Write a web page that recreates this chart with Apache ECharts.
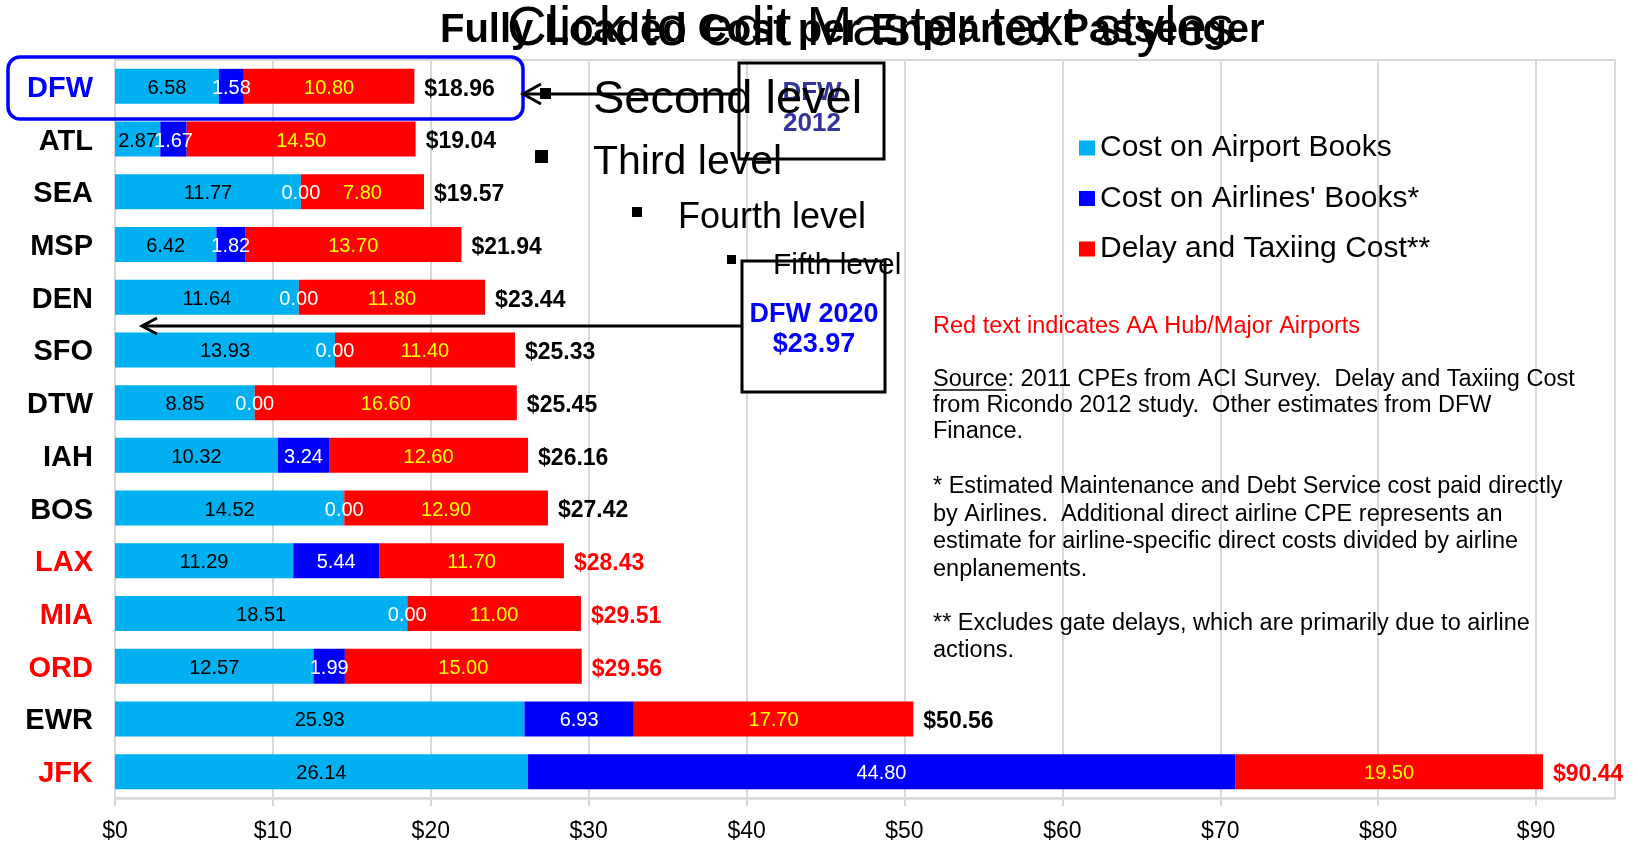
<!DOCTYPE html>
<html>
<head>
<meta charset="utf-8">
<script src="https://cdn.jsdelivr.net/npm/echarts@6/dist/echarts.min.js"></script>
<style>
html,body{margin:0;padding:0;background:#fff;}
#c{width:1638px;height:843px;}
</style>
</head>
<body>
<div id="c"></div>
<script>
const categories = ['DFW','ATL','SEA','MSP','DEN','SFO','DTW','IAH','BOS','LAX','MIA','ORD','EWR','JFK'];
const airportBooks = [6.58,2.87,11.77,6.42,11.64,13.93,8.85,10.32,14.52,11.29,18.51,12.57,25.93,26.14];
const airlineBooks = [1.58,1.67,0.00,1.82,0.00,0.00,0.00,3.24,0.00,5.44,0.00,1.99,6.93,44.80];
const delayTaxi = [10.80,14.50,7.80,13.70,11.80,11.40,16.60,12.60,12.90,11.70,11.00,15.00,17.70,19.50];
const totals = [18.96,19.04,19.57,21.94,23.44,25.33,25.45,26.16,27.42,28.43,29.51,29.56,50.56,90.44];
const hubAirports = ['LAX','MIA','ORD','JFK'];
const highlight = 'DFW';
const xTicks = {min:0, max:95, interval:10};

const FONT = '"Liberation Sans", Arial, sans-serif';
const catStyle = c => c === highlight ? 'b' : (hubAirports.indexOf(c) >= 0 ? 'r' : 'k');

const chart = echarts.init(document.getElementById('c'));

function segLabel(color){
  return {show:true, position:'inside', color:color, fontSize:20, fontFamily:FONT, offset:[0,2],
          textBorderWidth:0, formatter: p => Number(p.value).toFixed(2)};
}

const textLines = [
  {t:'Red text indicates AA Hub/Major Airports', y:327, c:'#FF0000'},
  {t:'Source: 2011 CPEs from ACI Survey.  Delay and Taxiing Cost', y:380, c:'#000'},
  {t:'from Ricondo 2012 study.  Other estimates from DFW', y:406, c:'#000'},
  {t:'Finance.', y:432, c:'#000'},
  {t:'* Estimated Maintenance and Debt Service cost paid directly', y:487, c:'#000'},
  {t:'by Airlines.  Additional direct airline CPE represents an', y:515, c:'#000'},
  {t:'estimate for airline-specific direct costs divided by airline', y:542, c:'#000'},
  {t:'enplanements.', y:570, c:'#000'},
  {t:'** Excludes gate delays, which are primarily due to airline', y:624, c:'#000'},
  {t:'actions.', y:651, c:'#000'}
];

const graphics = [];
textLines.forEach(l => graphics.push({type:'text', z:100, style:{text:l.t, x:933, y:l.y, fill:l.c,
  font:'23.5px ' + FONT, textVerticalAlign:'middle'}}));
graphics.push({type:'line', z:100, shape:{x1:933,y1:390,x2:1006,y2:390}, style:{stroke:'#000', lineWidth:1.5}});

// overlapping titles
graphics.push({type:'text', z:100, style:{text:'Fully Loaded Cost per Enplaned Passenger', x:440, y:31,
  font:'bold 40px ' + FONT, fill:'#000', textVerticalAlign:'middle'}});
graphics.push({type:'text', z:100, style:{text:'Click to edit Master text styles', x:507, y:30,
  font:'55px ' + FONT, fill:'#000', textVerticalAlign:'middle'}});

// master text levels
const levels = [
  {t:'Second level', x:593, y:100, s:47, bx:540, by:88, bs:11},
  {t:'Third level', x:593, y:163, s:41, bx:535, by:150, bs:13},
  {t:'Fourth level', x:678, y:218, s:36, bx:632, by:207, bs:10},
  {t:'Fifth level', x:773, y:266, s:30, bx:727, by:255, bs:9}
];
levels.forEach(l => {
  graphics.push({type:'rect', z:100, shape:{x:l.bx,y:l.by,width:l.bs,height:l.bs}, style:{fill:'#000'}});
  graphics.push({type:'text', z:103, style:{text:l.t, x:l.x, y:l.y, font:l.s + 'px ' + FONT, fill:'#000', textVerticalAlign:'middle'}});
});

// DFW highlight rounded rectangle
graphics.push({type:'rect', z:101, shape:{x:8,y:57,width:515,height:62,r:12}, style:{fill:'none', stroke:'#0000FF', lineWidth:3.5}});

// DFW 2012 box + arrow
graphics.push({type:'rect', z:101, shape:{x:739,y:63,width:145,height:96}, style:{fill:'none', stroke:'#000', lineWidth:3}});
graphics.push({type:'text', z:101, style:{text:'DFW', x:812, y:93, font:'bold 26px ' + FONT, fill:'#333399', textAlign:'center', textVerticalAlign:'middle'}});
graphics.push({type:'text', z:101, style:{text:'2012', x:812, y:124, font:'bold 26px ' + FONT, fill:'#333399', textAlign:'center', textVerticalAlign:'middle'}});
graphics.push({type:'polyline', z:101, shape:{points:[[739,94],[523,94]]}, style:{stroke:'#000', lineWidth:3}});
graphics.push({type:'polyline', z:101, shape:{points:[[541,84],[523,94],[541,104]]}, style:{stroke:'#000', lineWidth:3, fill:'none'}});

// DFW 2020 box + arrow
graphics.push({type:'rect', z:101, shape:{x:742,y:261,width:143,height:131}, style:{fill:'#fff', stroke:'#000', lineWidth:3}});
graphics.push({type:'text', z:102, style:{text:'DFW 2020', x:814, y:315, font:'bold 27px ' + FONT, fill:'#0000FF', textAlign:'center', textVerticalAlign:'middle'}});
graphics.push({type:'text', z:102, style:{text:'$23.97', x:814, y:345, font:'bold 27px ' + FONT, fill:'#0000FF', textAlign:'center', textVerticalAlign:'middle'}});
graphics.push({type:'polyline', z:101, shape:{points:[[742,326],[142,326]]}, style:{stroke:'#000', lineWidth:3}});
graphics.push({type:'polyline', z:101, shape:{points:[[157,318],[142,326],[157,334]]}, style:{stroke:'#000', lineWidth:3, fill:'none'}});

const catRich = {};
[['k','#000000'],['r','#FF0000'],['b','#0000FF']].forEach(([k,c]) => {
  catRich[k] = {color:c, fontSize:29, fontWeight:'bold', fontFamily:FONT, padding:[5,0,0,0]};
});

const option = {
  animation:false,
  backgroundColor:'#fff',
  textStyle:{fontFamily:FONT},
  grid:{left:115, right:23, top:60, bottom:34, show:true, borderColor:'#d9d9d9', borderWidth:2, containLabel:false},
  legend:{
    orient:'vertical', left:1079, top:133, padding:0, itemGap:20.5, itemWidth:16, itemHeight:15,
    icon:'rect', selectedMode:false,
    data:['Cost on Airport Books',"Cost on Airlines' Books*",'Delay and Taxiing Cost**'],
    textStyle:{fontSize:30, color:'#000', fontFamily:FONT}
  },
  xAxis:{
    type:'value', min:xTicks.min, max:xTicks.max, interval:xTicks.interval,
    axisLine:{show:true, lineStyle:{color:'#d9d9d9', width:2.5}},
    axisTick:{show:true, length:8, lineStyle:{color:'#d9d9d9', width:2}},
    splitLine:{show:true, lineStyle:{color:'#d9d9d9', width:2}},
    axisLabel:{fontSize:23, color:'#000', margin:22, fontFamily:FONT, formatter: v => '$' + v,
      showMaxLabel:false}
  },
  yAxis:{
    type:'category', inverse:true, data:categories,
    axisLine:{show:true, lineStyle:{color:'#d9d9d9', width:2}},
    axisTick:{show:false},
    axisLabel:{margin:22, formatter: v => '{' + catStyle(v) + '|' + v + '}', rich:catRich}
  },
  series:[
    {name:'Cost on Airport Books', type:'bar', stack:'cpe', barWidth:35, data:airportBooks,
      itemStyle:{color:'#00B0F0'}, label:segLabel('#000000')},
    {name:"Cost on Airlines' Books*", type:'bar', stack:'cpe', barWidth:35, data:airlineBooks,
      itemStyle:{color:'#0000FF'}, label:segLabel('#FFFFFF')},
    {name:'Delay and Taxiing Cost**', type:'bar', stack:'cpe', barWidth:35, data:delayTaxi,
      itemStyle:{color:'#FF0000'}, label:segLabel('#FFFF00')},
    {name:'Total', type:'scatter', symbolSize:0, silent:true, z:10,
      data: totals.map((t,i) => ({value:[t, categories[i]],
        label:{color: hubAirports.indexOf(categories[i]) >= 0 ? '#FF0000' : '#000000'}})),
      label:{show:true, position:'right', distance:10, offset:[0,3], fontSize:23, fontWeight:'bold', fontFamily:FONT,
        color:'#000000', opacity:1, textBorderWidth:0,
        formatter: p => '$' + p.value[0].toFixed(2)}}
  ],
  graphic: graphics
};
chart.setOption(option);
</script>
</body>
</html>
